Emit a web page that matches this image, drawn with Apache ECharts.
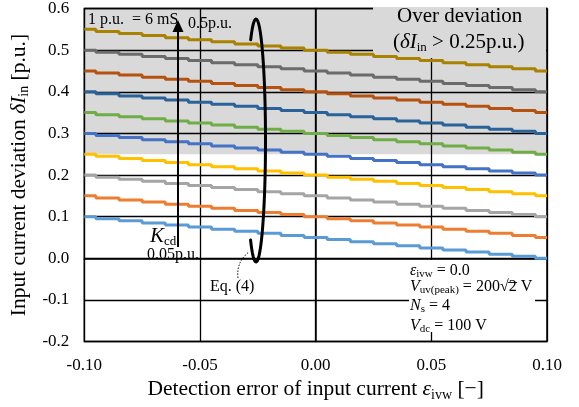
<!DOCTYPE html>
<html>
<head>
<meta charset="utf-8">
<script src="https://cdn.jsdelivr.net/npm/echarts@6/dist/echarts.min.js"></script>
<style>
  html, body { margin: 0; padding: 0; background: #fff; }
  #chart { width: 579px; height: 407px; }
</style>
</head>
<body>
<div id="chart"></div>
<script>
// Detection error of input current (x positions of the samples)
const detectionError = [-0.10, -0.09, -0.08, -0.07, -0.06, -0.05, -0.04, -0.03, -0.02, -0.01,
  0.00, 0.01, 0.02, 0.03, 0.04, 0.05, 0.06, 0.07, 0.08, 0.09, 0.10];

// Input current deviation for each K_cd setting
const kcd005 = [0.100, 0.095, 0.090, 0.085, 0.080, 0.075, 0.070, 0.065, 0.060, 0.055, 0.050,
  0.045, 0.040, 0.035, 0.030, 0.025, 0.020, 0.015, 0.010, 0.005, 0.000];
const kcd010 = [0.150, 0.145, 0.140, 0.135, 0.130, 0.125, 0.120, 0.115, 0.110, 0.105, 0.100,
  0.095, 0.090, 0.085, 0.080, 0.075, 0.070, 0.065, 0.060, 0.055, 0.050];
const kcd015 = [0.200, 0.195, 0.190, 0.185, 0.180, 0.175, 0.170, 0.165, 0.160, 0.155, 0.150,
  0.145, 0.140, 0.135, 0.130, 0.125, 0.120, 0.115, 0.110, 0.105, 0.100];
const kcd020 = [0.250, 0.245, 0.240, 0.235, 0.230, 0.225, 0.220, 0.215, 0.210, 0.205, 0.200,
  0.195, 0.190, 0.185, 0.180, 0.175, 0.170, 0.165, 0.160, 0.155, 0.150];
const kcd025 = [0.300, 0.295, 0.290, 0.285, 0.280, 0.275, 0.270, 0.265, 0.260, 0.255, 0.250,
  0.245, 0.240, 0.235, 0.230, 0.225, 0.220, 0.215, 0.210, 0.205, 0.200];
const kcd030 = [0.350, 0.345, 0.340, 0.335, 0.330, 0.325, 0.320, 0.315, 0.310, 0.305, 0.300,
  0.295, 0.290, 0.285, 0.280, 0.275, 0.270, 0.265, 0.260, 0.255, 0.250];
const kcd035 = [0.400, 0.395, 0.390, 0.385, 0.380, 0.375, 0.370, 0.365, 0.360, 0.355, 0.350,
  0.345, 0.340, 0.335, 0.330, 0.325, 0.320, 0.315, 0.310, 0.305, 0.300];
const kcd040 = [0.450, 0.445, 0.440, 0.435, 0.430, 0.425, 0.420, 0.415, 0.410, 0.405, 0.400,
  0.395, 0.390, 0.385, 0.380, 0.375, 0.370, 0.365, 0.360, 0.355, 0.350];
const kcd045 = [0.500, 0.495, 0.490, 0.485, 0.480, 0.475, 0.470, 0.465, 0.460, 0.455, 0.450,
  0.445, 0.440, 0.435, 0.430, 0.425, 0.420, 0.415, 0.410, 0.405, 0.400];
const kcd050 = [0.550, 0.545, 0.540, 0.535, 0.530, 0.525, 0.520, 0.515, 0.510, 0.505, 0.500,
  0.495, 0.490, 0.485, 0.480, 0.475, 0.470, 0.465, 0.460, 0.455, 0.450];

const kcdSettings = ['0.05', '0.10', '0.15', '0.20', '0.25', '0.30', '0.35', '0.40', '0.45', '0.50'];
const xTicks = [-0.10, -0.05, 0.00, 0.05, 0.10];
const yTicks = [-0.2, -0.1, 0.0, 0.1, 0.2, 0.3, 0.4, 0.5, 0.6];
const overDeviationLimit = 0.25;

const lineColors = ['#5B9BD5', '#ED7D31', '#A5A5A5', '#FFC000', '#4472C4',
  '#70AD47', '#2A6399', '#B5520F', '#6B6B6B', '#A88200'];

const SERIF = 'Liberation Serif, Times New Roman, serif';

const curves = [kcd005, kcd010, kcd015, kcd020, kcd025, kcd030, kcd035, kcd040, kcd045, kcd050];

const chart = echarts.init(document.getElementById('chart'), null, { renderer: 'canvas' });

function fmt(v, d) {
  if (Math.abs(v) < 1e-9) v = 0;
  return v.toFixed(d);
}

const series = curves.map((vals, i) => ({
  name: 'Kcd ' + kcdSettings[i],
  type: 'line',
  step: 'middle',
  showSymbol: false,
  symbol: 'none',
  z: 3,
  lineStyle: { color: lineColors[i], width: 3 },
  data: vals.map((v, j) => [detectionError[j], v])
}));

const titleRich = {
  n: { fontFamily: SERIF, fontSize: 21.5, color: '#000', lineHeight: 25 },
  it: { fontFamily: SERIF, fontSize: 21.5, fontStyle: 'italic', color: '#000', lineHeight: 25 },
  sub: { fontFamily: SERIF, fontSize: 14, color: '#000', lineHeight: 14, verticalAlign: 'bottom' }
};

chart.setOption({
  animation: false,
  backgroundColor: '#fff',
  grid: {
    left: 83, right: 32, top: 6, bottom: 61,
    show: true, borderColor: '#000', borderWidth: 1.5, backgroundColor: 'transparent'
  },
  xAxis: {
    type: 'value',
    min: xTicks[0], max: xTicks[xTicks.length - 1], interval: 0.05,
    axisLine: { show: true, lineStyle: { color: '#000', width: 1.5 } },
    axisTick: { show: false },
    splitLine: { show: true, lineStyle: { color: '#000', width: 1.3 } },
    axisLabel: {
      color: '#000', fontFamily: SERIF, fontSize: 17, margin: 15,
      formatter: v => fmt(v, 2)
    },
    name: '{n|Detection error of input current }{it|ε}{sub|ivw}{n| [−]}',
    nameLocation: 'middle',
    nameGap: 30,
    nameTextStyle: { rich: titleRich }
  },
  yAxis: {
    type: 'value',
    min: yTicks[0], max: yTicks[yTicks.length - 1], interval: 0.1,
    axisLine: { show: true, lineStyle: { color: '#000', width: 1.5 } },
    axisTick: { show: false },
    splitLine: { show: true, lineStyle: { color: '#000', width: 1.3 } },
    axisLabel: {
      color: '#000', fontFamily: SERIF, fontSize: 17, margin: 15,
      formatter: v => fmt(v, 1)
    },
    name: '{n|Input current deviation }{it|δI}{sub|in}{n| [p.u.]}',
    nameLocation: 'middle',
    nameGap: 46,
    nameTextStyle: { rich: titleRich }
  },
  series: series
});

// Shaded "over deviation" band, placed from the axis scale
const pTop = chart.convertToPixel({ gridIndex: 0 }, [xTicks[0], yTicks[yTicks.length - 1]]);
const pBand = chart.convertToPixel({ gridIndex: 0 }, [xTicks[xTicks.length - 1], overDeviationLimit]);

// Tall open loop marking the family of curves
const loopPts = [];
const lcx = 256, lcy = 140.5, lrx = 9.5, lry = 121.5;
for (let a = -124; a <= 125; a += 3) {
  const t = a * Math.PI / 180;
  loopPts.push([lcx + lrx * Math.cos(t), lcy + lry * Math.sin(t)]);
}

const smallRich = {
  n: { fontFamily: SERIF, fontSize: 16, color: '#000', lineHeight: 18 },
  it: { fontFamily: SERIF, fontSize: 16, fontStyle: 'italic', color: '#000', lineHeight: 18 },
  sub: { fontFamily: SERIF, fontSize: 11, color: '#000', lineHeight: 11, verticalAlign: 'bottom' }
};

// Position of the vinculum over the "2" in 200√2
const measureCtx = document.createElement('canvas').getContext('2d');
function textWidth(str, font) { measureCtx.font = font; return measureCtx.measureText(str).width; }
const condLeft = 410, vuvTop = 279;
const rootX = condLeft
  + textWidth('V', 'italic 16px ' + SERIF)
  + textWidth('uv(peak)', '11px ' + SERIF)
  + textWidth(' = 200√', '16px ' + SERIF);
const twoW = textWidth('2', '16px ' + SERIF);

chart.setOption({
  graphic: [
    {
      type: 'rect', z: -1, silent: true,
      shape: { x: pTop[0], y: pTop[1], width: pBand[0] - pTop[0], height: pBand[1] - pTop[1] },
      style: { fill: '#D9D9D9' }
    },
    // header box behind the "Over deviation" note
    {
      type: 'rect', z: 1, silent: true,
      shape: { x: 373, y: 7, width: 173, height: 51 },
      style: { fill: '#D9D9D9' }
    },
    {
      type: 'text', z: 4, left: 397, top: 6,
      style: { text: 'Over deviation', font: '21px ' + SERIF, fill: '#000' }
    },
    {
      type: 'text', z: 4, left: 393, top: 32,
      style: {
        text: '{n|(}{it|δI}{sub|in}{n| > 0.25p.u.)}',
        rich: {
          n: { fontFamily: SERIF, fontSize: 21, color: '#000', lineHeight: 24 },
          it: { fontFamily: SERIF, fontSize: 21, fontStyle: 'italic', color: '#000', lineHeight: 24 },
          sub: { fontFamily: SERIF, fontSize: 13, color: '#000', lineHeight: 13, verticalAlign: 'bottom' }
        }
      }
    },
    {
      type: 'text', z: 4, left: 88, top: 12,
      style: { text: '1 p.u.  = 6 mS', font: '16px ' + SERIF, fill: '#000' }
    },
    // arrow along K_cd
    {
      type: 'line', z: 4, silent: true,
      shape: { x1: 178, y1: 247, x2: 178, y2: 30 },
      style: { stroke: '#000', lineWidth: 2 }
    },
    {
      type: 'polygon', z: 4, silent: true,
      shape: { points: [[178, 20], [172.5, 32], [183.5, 32]] },
      style: { fill: '#000' }
    },
    {
      type: 'text', z: 4, left: 188, top: 16,
      style: { text: '0.5p.u.', font: '16px ' + SERIF, fill: '#000' }
    },
    {
      type: 'text', z: 4, left: 150, top: 226,
      style: {
        text: '{it|K}{sub|cd}',
        rich: {
          it: { fontFamily: SERIF, fontSize: 21, fontStyle: 'italic', color: '#000', lineHeight: 23 },
          sub: { fontFamily: SERIF, fontSize: 13, color: '#000', lineHeight: 13, verticalAlign: 'bottom' }
        }
      }
    },
    {
      type: 'text', z: 4, left: 147, top: 247,
      style: { text: '0.05p.u.', font: '16px ' + SERIF, fill: '#000' }
    },
    {
      type: 'polyline', z: 4, silent: true,
      shape: { points: loopPts },
      style: { stroke: '#000', lineWidth: 3, fill: null, lineCap: 'round' }
    },
    {
      type: 'bezierCurve', z: 4, silent: true,
      shape: { x1: 238, y1: 278, cpx1: 236, cpy1: 262, x2: 249, y2: 252 },
      style: { stroke: '#000', lineWidth: 1, lineDash: [1.5, 1.5], fill: null }
    },
    {
      type: 'text', z: 4, left: 210, top: 279,
      style: { text: 'Eq. (4)', font: '16px ' + SERIF, fill: '#000' }
    },
    // condition box
    {
      type: 'rect', z: 1, silent: true,
      shape: { x: 409, y: 260, width: 126, height: 72 },
      style: { fill: '#fff' }
    },
    {
      type: 'text', z: 4, left: condLeft, top: 263,
      style: { text: '{it|ε}{sub|ivw}{n| = 0.0}', rich: smallRich }
    },
    {
      type: 'text', z: 4, left: condLeft, top: vuvTop,
      style: { text: '{it|V}{sub|uv(peak)}{n| = 200√2 V}', rich: smallRich }
    },
    {
      type: 'line', z: 4, silent: true,
      shape: { x1: rootX - 0.5, y1: vuvTop + 3.5, x2: rootX + twoW + 0.5, y2: vuvTop + 3.5 },
      style: { stroke: '#000', lineWidth: 0.9 }
    },
    {
      type: 'text', z: 4, left: condLeft, top: 298,
      style: { text: '{it|N}{sub|s}{n| = 4}', rich: smallRich }
    },
    {
      type: 'text', z: 4, left: condLeft, top: 318,
      style: { text: '{it|V}{sub|dc}{n| = 100 V}', rich: smallRich }
    }
  ]
});
</script>
</body>
</html>
